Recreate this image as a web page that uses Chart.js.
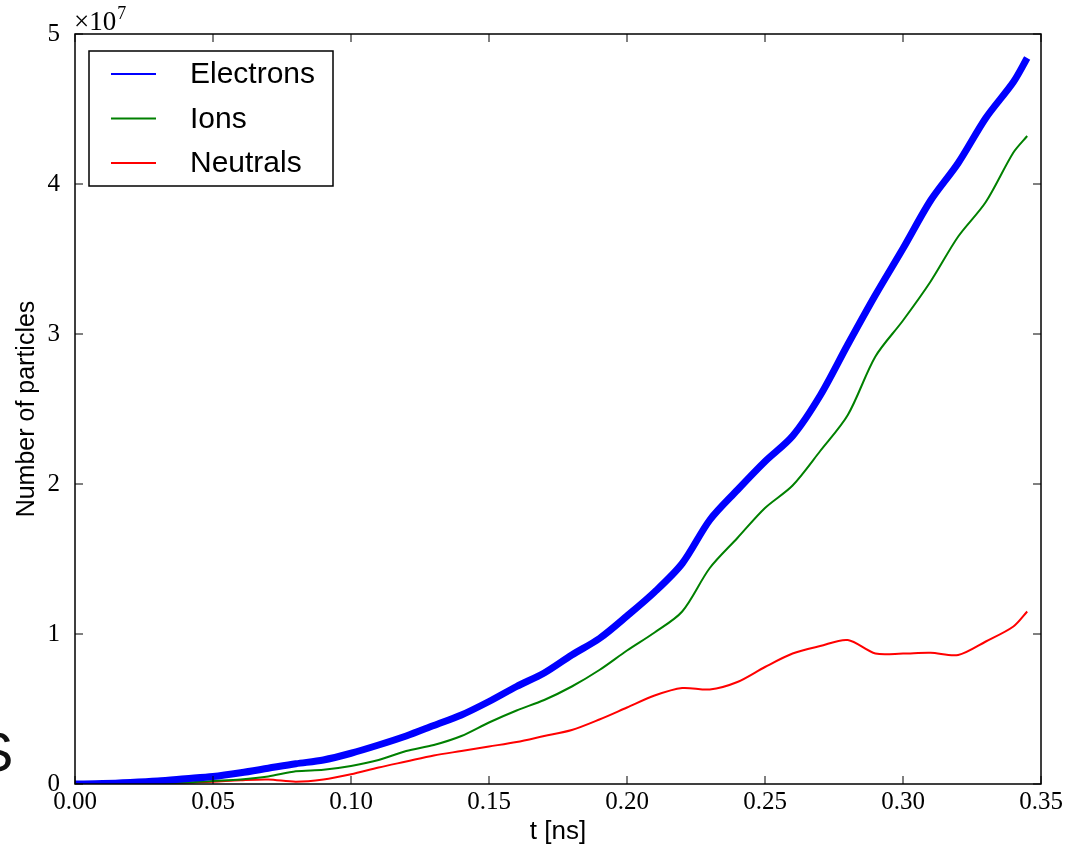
<!DOCTYPE html>
<html>
<head>
<meta charset="utf-8">
<script src="https://cdn.jsdelivr.net/npm/chart.js@4.4.0/dist/chart.umd.min.js"></script>
<style>
  body { margin: 0; background: #fff; overflow: hidden; }
  #wrap { position: relative; width: 1075px; height: 845px; }
  #stray { position: absolute; left: -24px; top: 719px; font: 56px "Liberation Sans", Arial, sans-serif; color: #111; }
</style>
</head>
<body>
<div id="wrap">
  <canvas id="chart" width="1075" height="845"></canvas>
  <span id="stray">S</span>
</div>
<script>
// time in ns
const tValues = [0.00, 0.01, 0.02, 0.03, 0.04, 0.05, 0.06, 0.07, 0.08, 0.09,
                 0.10, 0.11, 0.12, 0.13, 0.14, 0.15, 0.16, 0.17, 0.18, 0.19,
                 0.20, 0.21, 0.22, 0.23, 0.24, 0.25, 0.26, 0.27, 0.28, 0.29,
                 0.30, 0.31, 0.32, 0.33, 0.34, 0.345];
// particle counts in units of 1e7
const electrons = [0, 0.003, 0.01, 0.02, 0.035, 0.05, 0.075, 0.105, 0.135, 0.16,
                   0.205, 0.26, 0.32, 0.39, 0.46, 0.55, 0.65, 0.74, 0.86, 0.97,
                   1.12, 1.28, 1.47, 1.76, 1.96, 2.15, 2.32, 2.59, 2.93, 3.26,
                   3.57, 3.89, 4.14, 4.44, 4.68, 4.84];
const ions = [0, 0, 0.002, 0.005, 0.01, 0.02, 0.03, 0.05, 0.085, 0.095,
              0.12, 0.16, 0.22, 0.26, 0.32, 0.41, 0.49, 0.56, 0.65, 0.76,
              0.89, 1.01, 1.15, 1.44, 1.64, 1.84, 1.99, 2.22, 2.46, 2.85,
              3.09, 3.35, 3.65, 3.88, 4.21, 4.32];
const neutrals = [0, 0, 0, 0.003, 0.008, 0.015, 0.025, 0.03, 0.015, 0.03,
                  0.065, 0.11, 0.15, 0.19, 0.22, 0.25, 0.28, 0.32, 0.36, 0.43,
                  0.51, 0.59, 0.64, 0.63, 0.68, 0.78, 0.87, 0.92, 0.96, 0.87,
                  0.87, 0.875, 0.86, 0.95, 1.05, 1.15];
const xTicks = [0, 0.05, 0.10, 0.15, 0.20, 0.25, 0.30, 0.35];
const yTicks = [0, 1, 2, 3, 4, 5];

function toPoints(arr) {
  return arr.map((v, i) => ({ x: tValues[i], y: v }));
}

const serif = '"Liberation Serif", "DejaVu Serif", serif';
const sans = '"Liberation Sans", Arial, sans-serif';

// matplotlib-like frame, inward ticks, legend box and the x10^7 offset text
const decorations = {
  id: 'decorations',
  afterDraw(chart) {
    const ctx = chart.ctx;
    const a = chart.chartArea;
    const xs = chart.scales.x, ys = chart.scales.y;
    ctx.save();
    ctx.strokeStyle = '#000';
    ctx.lineWidth = 1.5;
    ctx.strokeRect(a.left, a.top, a.right - a.left, a.bottom - a.top);
    ctx.lineWidth = 1;
    ctx.beginPath();
    xTicks.forEach(v => {
      const px = xs.getPixelForValue(v);
      ctx.moveTo(px, a.bottom); ctx.lineTo(px, a.bottom - 8);
      ctx.moveTo(px, a.top); ctx.lineTo(px, a.top + 8);
    });
    yTicks.forEach(v => {
      const py = ys.getPixelForValue(v);
      ctx.moveTo(a.left, py); ctx.lineTo(a.left + 8, py);
      ctx.moveTo(a.right, py); ctx.lineTo(a.right - 8, py);
    });
    ctx.stroke();

    // offset text
    ctx.fillStyle = '#000';
    ctx.textBaseline = 'alphabetic';
    ctx.textAlign = 'left';
    ctx.font = '27px ' + serif;
    ctx.fillText('\u00d710', a.left - 1, a.top - 4);
    const w = ctx.measureText('\u00d710').width;
    ctx.font = '18px ' + serif;
    ctx.fillText('7', a.left + w, a.top - 15);

    // legend
    const lx = a.left + 14, ly = a.top + 17, lw = 244, lh = 135;
    ctx.fillStyle = '#fff';
    ctx.fillRect(lx, ly, lw, lh);
    ctx.lineWidth = 1.5;
    ctx.strokeStyle = '#000';
    ctx.strokeRect(lx, ly, lw, lh);
    ctx.font = '30px ' + sans;
    ctx.textBaseline = 'middle';
    chart.data.datasets.forEach((ds, i) => {
      const y = ly + 23 + i * 44.5;
      ctx.strokeStyle = ds.borderColor;
      ctx.lineWidth = 2;
      ctx.beginPath();
      ctx.moveTo(lx + 22, y); ctx.lineTo(lx + 67, y);
      ctx.stroke();
      ctx.fillStyle = '#000';
      ctx.fillText(ds.label, lx + 101, y + 1);
    });
    ctx.restore();
  }
};

const ctx = document.getElementById('chart').getContext('2d');
const chart = new Chart(ctx, {
  type: 'line',
  data: {
    datasets: [{
      label: 'Electrons',
      data: toPoints(electrons),
      borderColor: '#0000ff',
      borderWidth: 7,
      pointRadius: 0,
      tension: 0.3
    }, {
      label: 'Ions',
      data: toPoints(ions),
      borderColor: '#008000',
      borderWidth: 2,
      pointRadius: 0,
      tension: 0.3
    }, {
      label: 'Neutrals',
      data: toPoints(neutrals),
      borderColor: '#ff0000',
      borderWidth: 2,
      pointRadius: 0,
      tension: 0.3
    }]
  },
  options: {
    responsive: false,
    animation: false,
    layout: { padding: { top: 34, right: 34, left: 0, bottom: 0 } },
    plugins: { legend: { display: false }, tooltip: { enabled: false } },
    scales: {
      x: {
        type: 'linear',
        min: 0,
        max: 0.35,
        afterBuildTicks: s => { s.ticks = xTicks.map(v => ({ value: v })); },
        afterFit: s => { s.height = 61; },
        grid: { display: false },
        border: { display: false },
        ticks: {
          color: '#000',
          font: { family: serif, size: 25 },
          padding: -5,
          maxRotation: 0,
          callback: v => v.toFixed(2)
        },
        title: {
          display: true,
          text: 't [ns]',
          color: '#000',
          font: { family: sans, size: 26 },
          padding: { top: 0, bottom: -2 }
        }
      },
      y: {
        min: 0,
        max: 5,
        afterBuildTicks: s => { s.ticks = yTicks.map(v => ({ value: v })); },
        afterFit: s => { s.width = 75; },
        grid: { display: false },
        border: { display: false },
        ticks: {
          color: '#000',
          font: { family: serif, size: 25 },
          padding: 7,
          callback: v => String(v)
        },
        title: {
          display: true,
          text: 'Number of particles',
          color: '#000',
          font: { family: sans, size: 25 },
          padding: { top: 12, bottom: 0 }
        }
      }
    }
  },
  plugins: [decorations]
});
</script>
</body>
</html>
